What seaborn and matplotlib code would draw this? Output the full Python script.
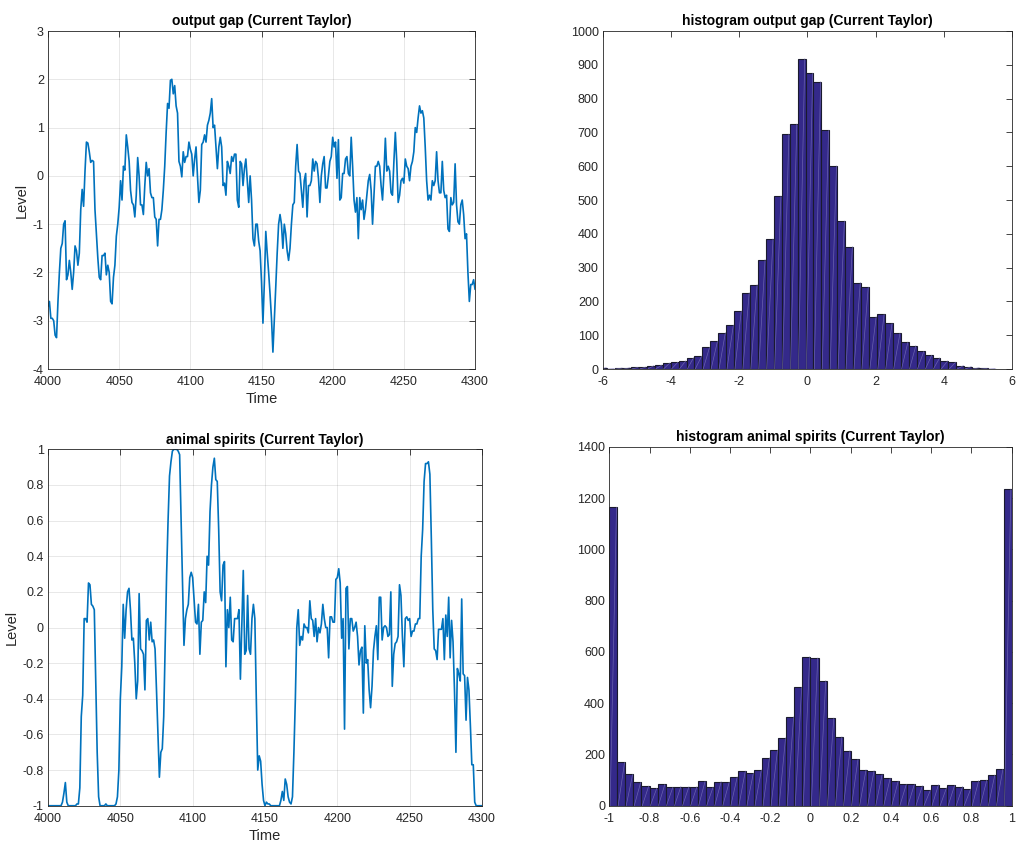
import numpy as np
import pandas as pd
import matplotlib
matplotlib.use("Agg")
import matplotlib.pyplot as plt
import seaborn as sns

# output gap, t = 4000 .. 4300
gap = [
  -2.7, -2.6, -2.95, -2.95, -3.0, -3.3, -3.35, -2.6, -2.0, -1.5,
  -1.4, -1.0, -0.93, -2.15, -2.05, -1.75, -2.0, -2.35, -2.0, -1.45,
  -1.55, -1.85, -1.6, -0.7, -0.28, -0.63, 0.1, 0.7, 0.68, 0.5,
  0.28, 0.32, 0.3, -0.7, -1.2, -1.7, -2.1, -2.15, -1.65, -1.65,
  -1.6, -2.05, -1.85, -2.0, -2.6, -2.65, -2.1, -1.85, -1.25, -1.0,
  -0.65, -0.1, -0.5, 0.2, 0.12, 0.85, 0.6, 0.3, -0.3, -0.55,
  -0.6, -0.85, -0.4, 0.38, 0.0, -0.6, -0.6, -0.8, -0.2, 0.28,
  0.0, 0.15, -0.35, -0.45, -0.45, -0.85, -0.9, -1.45, -0.9, -0.9,
  -0.7, -0.3, 0.2, 0.9, 1.5, 1.4, 1.98, 2.0, 1.7, 1.87,
  1.45, 1.3, 0.3, 0.2, -0.02, 0.5, 0.28, 0.4, 0.4, 0.7,
  0.55, 0.45, 0.0, 0.35, 0.6, 0.0, -0.55, -0.3, 0.65, 0.7,
  0.85, 0.7, 1.05, 1.15, 1.3, 1.6, 1.0, 1.05, 0.6, 0.15,
  0.6, 0.8, 0.6, -0.2, -0.15, -0.4, 0.3, 0.2, 0.05, 0.4,
  0.3, 0.45, 0.45, -0.5, -0.65, 0.3, 0.25, -0.2, 0.15, 0.35,
  -0.1, -0.55, 0.0, -0.5, -1.3, -1.45, -1.0, -1.0, -1.35, -1.55,
  -2.2, -3.05, -2.2, -1.15, -1.6, -2.0, -2.45, -2.95, -3.65, -3.0,
  -2.3, -1.6, -1.0, -0.8, -1.0, -1.5, -1.0, -1.2, -1.55, -1.75,
  -1.5, -1.0, -0.6, -0.55, 0.2, 0.65, 0.1, 0.05, -0.3, -0.65,
  -0.1, 0.05, -0.85, -0.2, -0.2, -0.1, 0.35, 0.1, 0.3, 0.25,
  -0.05, -0.55, 0.0, 0.25, 0.4, -0.25, -0.25, 0.0, 0.3, 0.4,
  0.8, 0.6, 0.7, -0.05, 0.75, -0.5, -0.45, 0.05, 0.05, 0.35,
  0.4, 0.05, 0.0, 0.8, 0.2, -0.5, -0.75, -0.45, -1.3, -0.45,
  -0.7, -0.5, -0.9, -0.7, -0.4, -0.1, 0.03, -0.3, -1.0, -0.4,
  0.2, 0.2, 0.3, 0.2, -0.2, -0.5, 0.05, 0.78, 0.1, 0.2,
  0.1, -0.35, -0.4, 0.3, 0.9, 0.3, -0.55, -0.4, -0.1, -0.05,
  -0.15, 0.35, 0.2, 0.15, -0.1, 0.2, 0.3, 0.5, 1.0, 0.9,
  1.2, 1.45, 1.3, 1.35, 1.2, 0.6, -0.1, -0.5, -0.4, -0.5,
  -0.1, -0.2, -0.1, 0.5, -0.1, -0.35, -0.35, 0.3, -0.3, -0.45,
  -0.4, -1.1, -1.15, -0.45, -0.6, -0.55, 0.25, -0.6, -0.95, -1.0,
  -0.6, -0.5, -0.8, -1.3, -1.2, -2.0, -2.6, -2.25, -2.25, -2.15,
  -2.35,
]

# animal spirits, t = 4000 .. 4300
spirits = [
  -1, -1, -1, -1, -1, -1, -1, -1, -1, -1,
  -0.98, -0.93, -0.87, -0.98, -1, -1, -1, -1, -1, -1,
  -0.99, -0.99, -0.9, -0.5, -0.38, 0.05, 0.05, 0.03, 0.25, 0.24,
  0.13, 0.12, 0.1, -0.3, -0.7, -0.95, -1, -1, -1, -1,
  -0.99, -1, -1, -1, -1, -1, -1, -0.99, -0.95, -0.8,
  -0.4, -0.22, 0.13, -0.06, 0.1, 0.2, 0.22, 0.1, -0.07, -0.06,
  -0.2, -0.4, -0.3, 0.19, -0.12, -0.13, -0.15, -0.35, 0.04, 0.05,
  -0.07, 0.03, -0.08, -0.07, -0.12, -0.35, -0.6, -0.84, -0.7, -0.68,
  -0.5, -0.1, 0.3, 0.6, 0.85, 0.93, 0.99, 1.0, 1.0, 1.0,
  0.99, 0.97, 0.6, 0.25, -0.1, 0.05, 0.1, 0.13, 0.28, 0.31,
  0.28, 0.15, 0.03, 0.02, 0.13, -0.15, 0.03, 0.04, 0.2, 0.14,
  0.4, 0.35, 0.65, 0.8, 0.9, 0.95, 0.83, 0.82, 0.55, 0.2,
  0.15, 0.35, 0.37, -0.22, 0.1, 0.0, 0.17, -0.07, -0.08, 0.05,
  0.05, 0.05, 0.1, -0.29, 0.02, 0.32, -0.15, -0.13, 0.18, -0.12,
  -0.15, 0.05, 0.13, 0.05, -0.4, -0.8, -0.72, -0.75, -0.88, -0.97,
  -1, -0.98, -0.99, -0.99, -1, -1, -1, -1, -1, -1,
  -1, -0.97, -0.92, -0.97, -0.85, -0.88, -0.95, -0.98, -0.99, -0.95,
  -0.7, -0.4, 0.0, 0.1, -0.1, -0.05, -0.07, 0.02, 0.0, 0.0,
  -0.03, 0.15, 0.05, 0.04, -0.05, 0.05, -0.08, 0.0, -0.03, 0.02,
  0.13, 0.05, 0.0, 0.0, -0.17, 0.06, 0.06, 0.03, 0.03, 0.27,
  0.28, 0.33, 0.25, -0.06, 0.05, -0.57, 0.22, 0.23, -0.12, 0.05,
  0.05, -0.02, 0.0, 0.03, -0.05, -0.21, -0.13, -0.11, -0.48, 0.01,
  -0.2, -0.18, -0.35, -0.45, -0.33, -0.13, -0.05, 0.01, -0.18, 0.17,
  0.17, -0.07, 0.0, 0.01, 0.0, -0.05, -0.04, 0.2, -0.33, -0.15,
  -0.09, -0.08, -0.05, 0.24, 0.18, -0.05, -0.22, 0.05, 0.06, 0.04,
  0.05, -0.05, -0.02, -0.02, 0.02, 0.02, 0.05, 0.05, 0.4, 0.55,
  0.82, 0.92, 0.92, 0.93, 0.86, 0.5, 0.1, -0.12, -0.13, -0.18,
  -0.01, -0.01, -0.01, 0.05, -0.18, 0.07, -0.05, 0.17, -0.17, 0.04,
  -0.08, -0.35, -0.7, -0.23, -0.26, -0.3, 0.16, -0.26, -0.27, -0.52,
  -0.28, -0.35, -0.55, -0.77, -0.77, -0.98, -1, -1, -1, -1,
  -1,
]

# histogram counts (50 bins each)
gap_range = (-6.11, 5.53)
gap_counts = [
  4, 1, 3, 4, 5, 6, 10, 12, 18, 20,
  24, 34, 38, 64, 82, 108, 130, 172, 226, 250,
  324, 385, 512, 695, 725, 918, 875, 850, 706, 601,
  438, 362, 256, 242, 155, 162, 135, 106, 80, 69,
  52, 41, 33, 24, 20, 10, 7, 4, 2, 1,
]
spirit_range = (-1.0, 1.0)
spirit_counts = [
  1164, 169, 122, 91, 77, 68, 83, 72, 75, 74,
  75, 95, 73, 94, 92, 113, 135, 127, 140, 187,
  217, 265, 347, 462, 581, 576, 488, 342, 269, 215,
  181, 140, 137, 122, 107, 96, 83, 83, 78, 61,
  82, 70, 79, 75, 65, 98, 100, 120, 142, 1235,
]

line_col = "#0072BD"
bar_col = "#34298a"
ink = "#262626"

sns.set_theme(style="white")
plt.rcParams["font.family"] = ["Liberation Sans", "DejaVu Sans"]
plt.rcParams["axes.unicode_minus"] = False

fig = plt.figure(figsize=(10.17, 8.46), dpi=100)
ax_gap = fig.add_axes([0.0472, 0.5638, 0.4199, 0.3995])
ax_hgap = fig.add_axes([0.5929, 0.5638, 0.4022, 0.3995])
ax_spi = fig.add_axes([0.0472, 0.0476, 0.4267, 0.4213])
ax_hspi = fig.add_axes([0.5991, 0.0476, 0.3957, 0.4243])

fmt = matplotlib.ticker.FuncFormatter(lambda v, p: f"{v + 0.0:g}")


def style(ax, grid):
  for s in ax.spines.values():
    s.set_color(ink)
    s.set_linewidth(0.6)
  ax.tick_params(direction="in", top=True, right=True, length=4, width=0.6,
                 colors=ink, labelsize=9)
  ax.tick_params(axis="x", pad=5)
  ax.tick_params(axis="y", pad=3)
  ax.xaxis.set_major_formatter(fmt)
  ax.yaxis.set_major_formatter(fmt)
  if grid:
    ax.grid(True, color=ink, alpha=0.15, linewidth=0.5)
    ax.set_axisbelow(True)
  else:
    ax.grid(False)


def series(ax, vals, title, ylim, yticks):
  t = np.arange(4000, 4000 + len(vals))
  sns.lineplot(x=t, y=vals, ax=ax, color=line_col, linewidth=1.2)
  ax.set_xlim(4000, 4300)
  ax.set_ylim(*ylim)
  ax.set_xticks(np.arange(4000, 4301, 50))
  ax.set_yticks(yticks)
  ax.set_xlabel("Time", fontsize=10.5, color=ink, labelpad=3)
  ax.set_ylabel("Level", fontsize=10.5, color=ink, labelpad=3)
  ax.set_title(title, fontsize=10, fontweight="bold", color="black", pad=4)
  style(ax, True)


def hist(ax, counts, rng, title, xticks, ylim, yticks):
  edges = np.linspace(rng[0], rng[1], len(counts) + 1)
  df = pd.DataFrame({"x": (edges[:-1] + edges[1:]) / 2, "n": counts})
  sns.histplot(data=df, x="x", weights="n", bins=edges.tolist(), ax=ax,
               color=bar_col, edgecolor="#1a1a2e", linewidth=0.8, alpha=1)
  # faint diagonal seam inside each bar
  for p in list(ax.patches):
    x0, w, h = p.get_x(), p.get_width(), p.get_height()
    ax.plot([x0 + 0.1 * w, x0 + 0.9 * w], [0, h], color="#7770b8",
            linewidth=0.5, alpha=0.8)
  ax.set_xlim(xticks[0], xticks[-1])
  ax.set_ylim(*ylim)
  ax.set_xticks(xticks)
  ax.set_yticks(yticks)
  ax.set_xlabel("")
  ax.set_ylabel("")
  ax.set_title(title, fontsize=10, fontweight="bold", color="black", pad=4)
  style(ax, False)


series(ax_gap, gap, "output gap (Current Taylor)", (-4, 3), np.arange(-4, 4))
series(ax_spi, spirits, "animal spirits (Current Taylor)", (-1, 1),
       np.linspace(-1, 1, 11).round(1))
hist(ax_hgap, gap_counts, gap_range, "histogram output gap (Current Taylor)",
     np.arange(-6, 7, 2), (0, 1000), np.arange(0, 1001, 100))
hist(ax_hspi, spirit_counts, spirit_range, "histogram animal spirits (Current Taylor)",
     np.linspace(-1, 1, 11).round(1), (0, 1400), np.arange(0, 1401, 200))

fig.savefig("out.png", dpi=100)
